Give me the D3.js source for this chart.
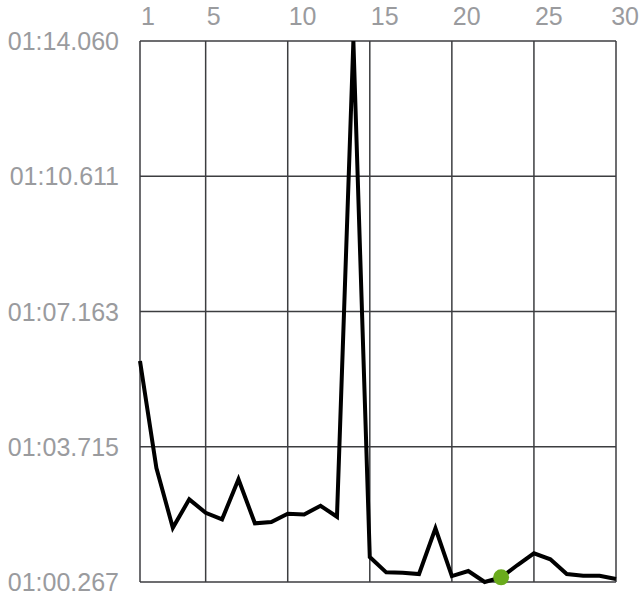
<!DOCTYPE html>
<html>
<head>
<meta charset="utf-8">
<script src="https://cdn.jsdelivr.net/npm/d3@7/dist/d3.min.js"></script>
<style>
  html, body { margin: 0; padding: 0; background: #fff; }
  svg { display: block; }
</style>
</head>
<body>
<svg id="chart" width="640" height="598"></svg>
<script>
// Lap numbers and lap times (seconds)
const laps = d3.range(1, 31);
const lapTimes = [
  65.901, 63.173, 61.650, 62.374, 62.033, 61.865, 62.884, 61.763, 61.796, 62.007,
  61.990, 62.211, 61.930, 74.060, 60.903, 60.513, 60.504, 60.470, 61.635, 60.419,
  60.547, 60.267, 60.386, 60.700, 60.998, 60.845, 60.470, 60.427, 60.427, 60.343
];
const xTickValues = [1, 5, 10, 15, 20, 25, 30];
const highlightLap = [23];

const margin = { top: 41, right: 24, bottom: 16, left: 140 };
const W = 640, H = 598;
const svg = d3.select("#chart");

const yMin = d3.min(lapTimes), yMax = d3.max(lapTimes);
const yTicks = d3.range(5).map(i => yMin + (yMax - yMin) * i / 4);

const x = d3.scaleLinear().domain([1, 30]).range([margin.left, W - margin.right]);
const y = d3.scaleLinear().domain([yMin, yMax]).range([H - margin.bottom, margin.top]);

function fmt(s) {
  const totalMs = Math.floor(s * 1000 + 1e-6);
  const m = Math.floor(totalMs / 60000);
  const sec = Math.floor((totalMs % 60000) / 1000);
  const ms = totalMs % 1000;
  return String(m).padStart(2, "0") + ":" + String(sec).padStart(2, "0") + "." + String(ms).padStart(3, "0");
}

const gridColor = "#3c3d40";
const labelColor = "#9a9b9e";
const font = "Liberation Sans, Arial, sans-serif";

// vertical grid lines
svg.append("g").selectAll("line").data(xTickValues).join("line")
  .attr("x1", d => x(d)).attr("x2", d => x(d))
  .attr("y1", y(yMax)).attr("y2", y(yMin))
  .attr("stroke", gridColor).attr("stroke-width", 1.5);

// horizontal grid lines
svg.append("g").selectAll("line").data(yTicks).join("line")
  .attr("x1", x(1)).attr("x2", x(30))
  .attr("y1", d => y(d)).attr("y2", d => y(d))
  .attr("stroke", gridColor).attr("stroke-width", 1.5);

// x tick labels (top), kept inside the canvas
svg.append("g").selectAll("text").data(xTickValues).join("text")
  .attr("x", d => x(d) + 1)
  .attr("y", 25)
  .attr("text-anchor", "start")
  .attr("font-family", font).attr("font-size", 25)
  .attr("fill", labelColor)
  .text(d => d)
  .each(function() {
    const t = d3.select(this);
    const w = this.getComputedTextLength();
    const x0 = +t.attr("x");
    if (x0 + w > W - 1) t.attr("x", W - 1 - w);
  });

// y tick labels
svg.append("g").selectAll("text").data(yTicks).join("text")
  .attr("x", 119)
  .attr("y", d => y(d))
  .attr("dy", "0.36em")
  .attr("text-anchor", "end")
  .attr("font-family", font).attr("font-size", 25)
  .attr("fill", labelColor)
  .text(d => fmt(d));

// line
const line = d3.line().x((d, i) => x(laps[i])).y(d => y(d));
svg.append("path")
  .datum(lapTimes)
  .attr("d", line)
  .attr("fill", "none")
  .attr("stroke", "#000")
  .attr("stroke-width", 4)
  .attr("stroke-linejoin", "miter");

// highlight dot
svg.append("g").selectAll("circle").data(highlightLap).join("circle")
  .attr("cx", d => x(d))
  .attr("cy", d => y(lapTimes[d - 1]))
  .attr("r", 8)
  .attr("fill", "#6aab1c");
</script>
</body>
</html>
